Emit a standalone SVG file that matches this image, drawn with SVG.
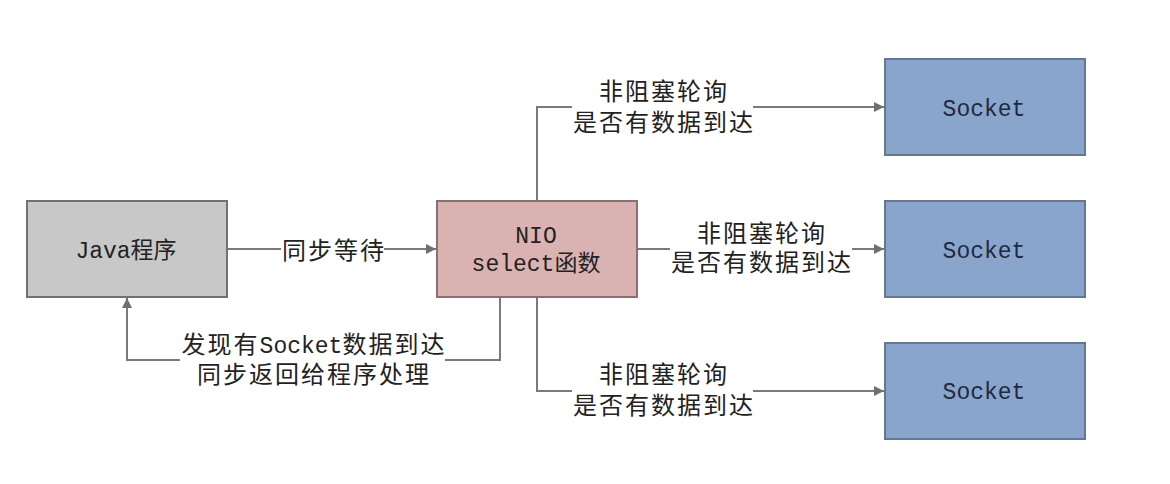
<svg xmlns="http://www.w3.org/2000/svg" width="1170" height="484" viewBox="0 0 1170 484">
<defs>
<marker id="arr" viewBox="0 0 10 10" refX="10" refY="5" markerWidth="10" markerHeight="10" markerUnits="userSpaceOnUse" orient="auto">
<path d="M0,0 L10,5 L0,10 z" fill="#6f6f6f"/>
</marker>
</defs>
<style>
.box{stroke-width:2}
.java{fill:#c8c8c8;stroke:#717171}
.nio{fill:#dbb2b2;stroke:#8a7070}
.sock{fill:#8aa5cc;stroke:#66778f}
.t{font-family:"Liberation Mono","Noto Sans CJK SC",monospace;font-size:23px;fill:#222;text-anchor:middle}
.st{fill:#1f2a40}
.lbl{font-family:"Liberation Mono","Noto Sans CJK SC",monospace;font-size:24px;letter-spacing:2px;fill:#222;text-anchor:middle}
.lat{font-size:23px;letter-spacing:0}
.ln{fill:none;stroke:#7a7a7a;stroke-width:2}
.bg{fill:#fff}
</style>
<rect width="1170" height="484" fill="#fff"/>
<g id="connectors">
<path class="ln" d="M227,249 H436" marker-end="url(#arr)"/>
<path class="ln" d="M537,201 V107 H884" marker-end="url(#arr)"/>
<path class="ln" d="M637,249 H884" marker-end="url(#arr)"/>
<path class="ln" d="M537,297 V391 H884" marker-end="url(#arr)"/>
<path class="ln" d="M500,297 V360 H127 V298" marker-end="url(#arr)"/>
<rect class="bg" x="281" y="236" width="103" height="28"/>
<text class="lbl" x="334" y="259">同步等待</text>
<rect class="bg" x="572" y="78" width="181" height="58"/>
<text class="lbl" x="664" y="100">非阻塞轮询</text>
<text class="lbl" x="664" y="131">是否有数据到达</text>
<rect class="bg" x="670" y="220" width="182" height="56"/>
<text class="lbl" x="762" y="242">非阻塞轮询</text>
<text class="lbl" x="762" y="271">是否有数据到达</text>
<rect class="bg" x="572" y="361" width="181" height="58"/>
<text class="lbl" x="664" y="383">非阻塞轮询</text>
<text class="lbl" x="664" y="414">是否有数据到达</text>
<rect class="bg" x="180" y="331" width="265" height="56"/>
<text class="lbl" x="314" y="353">发现有<tspan class="lat">Socket</tspan>数据到达</text>
<text class="lbl" x="314" y="383">同步返回给程序处理</text>
</g>
<g id="java">
<rect class="box java" x="27" y="201" width="200" height="96"/>
<text class="t" x="126" y="258">Java程序</text>
</g>
<g id="nio">
<rect class="box nio" x="437" y="201" width="200" height="96"/>
<text class="t" x="536" y="243">NIO</text>
<text class="t" x="536" y="271">select函数</text>
</g>
<g id="socket1">
<rect class="box sock" x="885" y="59" width="200" height="96"/>
<text class="t st" x="984" y="116">Socket</text>
</g>
<g id="socket2">
<rect class="box sock" x="885" y="201" width="200" height="96"/>
<text class="t st" x="984" y="258">Socket</text>
</g>
<g id="socket3">
<rect class="box sock" x="885" y="343" width="200" height="96"/>
<text class="t st" x="984" y="399">Socket</text>
</g>
</svg>
